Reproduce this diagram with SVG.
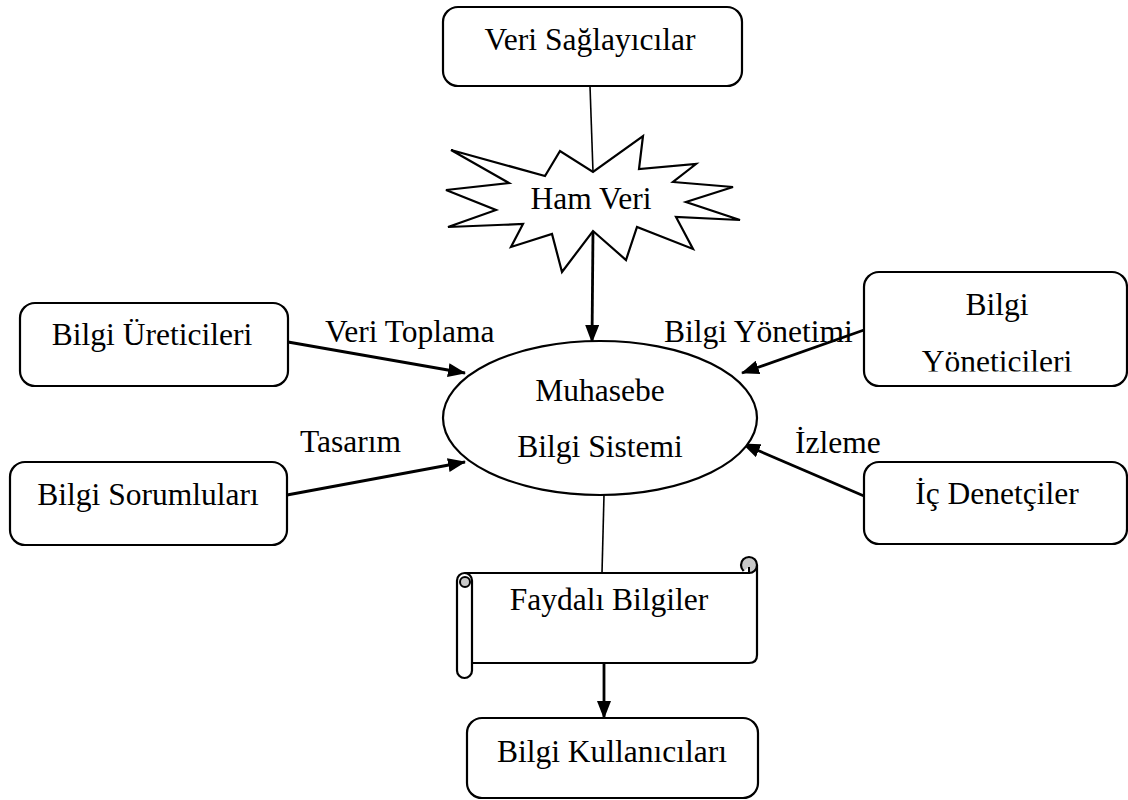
<svg xmlns="http://www.w3.org/2000/svg" width="1128" height="800" viewBox="0 0 1128 800">
  <style>
    .box { fill: #ffffff; stroke: #000000; stroke-width: 2.2; }
    .lbl { font-family: "Liberation Serif", "Times New Roman", serif; font-size: 31.5px; fill: #000000; text-anchor: middle; }
    .tag { font-family: "Liberation Serif", "Times New Roman", serif; font-size: 31.5px; fill: #000000; }
    .thin { stroke: #000000; stroke-width: 1.6; fill: none; }
    .arrow { stroke: #000000; stroke-width: 2.8; fill: none; marker-end: url(#head); }
  </style>
  <defs>
    <marker id="head" markerUnits="userSpaceOnUse" markerWidth="18" markerHeight="14" refX="17" refY="7" orient="auto">
      <path d="M0,0 L18,7 L0,14 z" fill="#000000"/>
    </marker>
    <clipPath id="clipYon">
      <rect x="864" y="272" width="264" height="99.5"/>
    </clipPath>
  </defs>

  <rect width="1128" height="800" fill="#ffffff"/>

  <!-- connectors -->
  <g id="connectors">
    <line class="thin" x1="590" y1="86" x2="593" y2="172"/>
    <line class="arrow" x1="593" y1="231" x2="592" y2="342"/>
    <line class="arrow" x1="288" y1="342" x2="465" y2="373"/>
    <line class="arrow" x1="287" y1="495" x2="465" y2="462"/>
    <line class="arrow" x1="864" y1="330" x2="742" y2="373"/>
    <line class="arrow" x1="864" y1="496" x2="743" y2="444"/>
    <line class="thin" x1="604" y1="495" x2="602" y2="573"/>
    <line class="arrow" x1="604" y1="663" x2="604" y2="718"/>
    <text class="tag" x="325" y="342">Veri Toplama</text>
    <text class="tag" x="300" y="452">Tasarım</text>
    <text class="tag" x="664" y="342">Bilgi Yönetimi</text>
    <text class="tag" x="795" y="453">İzleme</text>
  </g>

  <!-- data providers -->
  <g id="veri-saglayicilar">
    <rect class="box" x="443" y="7" width="299" height="79" rx="15"/>
    <text class="lbl" x="590" y="50">Veri Sağlayıcılar</text>
  </g>

  <!-- raw data burst -->
  <g id="ham-veri">
    <polygon class="box" points="451,150 545,176 560,151 593,172 643,136 639,169 696,164 673,182 733,187 686,202 740,220 676,217 693,249 637,227 626,260 593,231 562,272 552,234 511,247 523,224 448,227 496,210 446,190 509,183"/>
    <text class="lbl" x="591" y="209">Ham Veri</text>
  </g>

  <!-- central system -->
  <g id="muhasebe-bilgi-sistemi">
    <ellipse class="box" cx="600" cy="418" rx="157" ry="77"/>
    <text class="lbl" x="600" y="401">Muhasebe</text>
    <text class="lbl" x="600" y="457">Bilgi Sistemi</text>
  </g>

  <g id="bilgi-ureticileri">
    <rect class="box" x="20" y="303" width="268" height="83" rx="15"/>
    <text class="lbl" x="152" y="345">Bilgi Üreticileri</text>
  </g>

  <g id="bilgi-sorumlulari">
    <rect class="box" x="10" y="462" width="277" height="83" rx="15"/>
    <text class="lbl" x="148" y="505">Bilgi Sorumluları</text>
  </g>

  <g id="bilgi-yoneticileri">
    <rect class="box" x="864" y="272" width="263" height="114" rx="15"/>
    <text class="lbl" x="997" y="315">Bilgi</text>
    <text class="lbl" x="997" y="372" clip-path="url(#clipYon)">Yöneticileri</text>
  </g>

  <g id="ic-denetciler">
    <rect class="box" x="864" y="462" width="263" height="82" rx="15"/>
    <text class="lbl" x="997" y="504">İç Denetçiler</text>
  </g>

  <!-- useful information scroll -->
  <g id="faydali-bilgiler">
    <path d="M465,573 H749 V565 A8,8 0 0 1 757,565 V655 Q757,663 749,663 H472 V573 Z" fill="#ffffff"/>
    <path fill="none" stroke="#000000" stroke-width="2.2" d="M465,573 H749 M757,565 V655 Q757,663 749,663 H472"/>
    <circle cx="749" cy="565" r="8" fill="#c8c8c8" stroke="#000000" stroke-width="2.2"/>
    <path d="M741,573 H749 V567" fill="#ffffff" stroke="#000000" stroke-width="2"/>
    <rect class="box" x="457" y="573" width="15" height="105" rx="7.5"/>
    <circle cx="465" cy="582" r="5" fill="#c8c8c8" stroke="#000000" stroke-width="2"/>
    <text class="lbl" x="609" y="610">Faydalı Bilgiler</text>
  </g>

  <g id="bilgi-kullanicilari">
    <rect class="box" x="467" y="718" width="291" height="80" rx="15"/>
    <text class="lbl" x="612" y="762">Bilgi Kullanıcıları</text>
  </g>
</svg>
